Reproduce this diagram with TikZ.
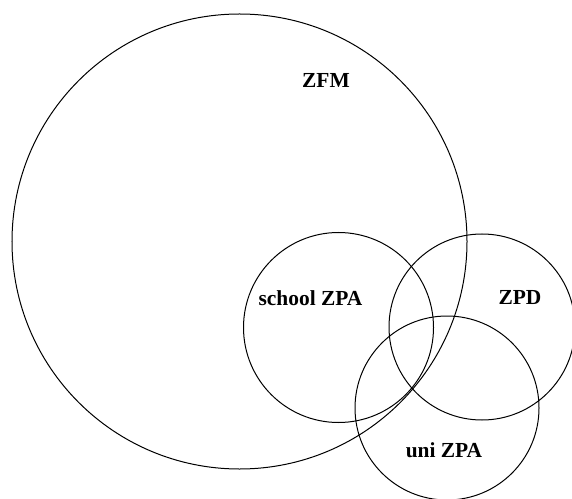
\documentclass[tikz,border=0pt]{standalone}
\usepackage{fontspec}
\setmainfont{Liberation Serif}
\usetikzlibrary{shapes, positioning}

\begin{document}
\begin{tikzpicture}[
          x=1bp, y=-1bp,
          zone/.style={draw, circle, line width=1bp, inner sep=0pt, outer sep=0pt},
          zonelabel/.style={font=\fontsize{21.5}{24}\selectfont\bfseries, anchor=base, inner sep=0pt}
        ]
        \useasboundingbox (0,0) rectangle (572,499);
        % zones
        \node[zone, minimum size=455bp] (zfm) at (239.5,241.5) {};
        \node[zone, minimum size=190bp] (school) at (338.5,327.5) {};
        \node[zone, minimum size=186bp] (zpd) at (482,327) {};
        \node[zone, minimum size=184bp] (uni) at (447,408) {};
        % labels
        \node[zonelabel] (zfmlabel) at (326,87.3) {ZFM};
        \node[zonelabel] (schoollabel) at (310.5,305) {school ZPA};
        \node[zonelabel] (zpdlabel) at (520,304) {ZPD};
        \node[zonelabel] (unilabel) at (444,457.3) {uni ZPA};
        \end{tikzpicture}
\end{document}
